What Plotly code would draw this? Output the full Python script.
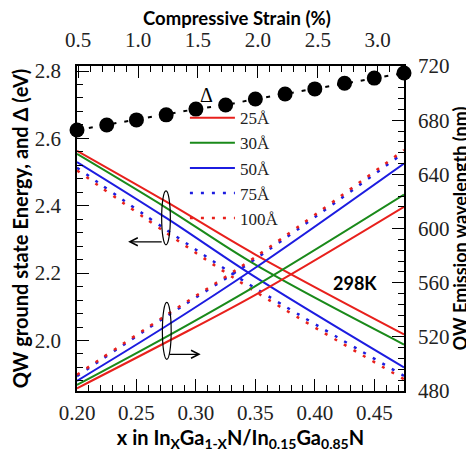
import plotly.graph_objects as go

# x = In fraction
x_pts = [0.20, 0.275, 0.35, 0.475]

# Ground state energies (eV), left axis
e_25 = [2.563, 2.412, 2.255, 2.018]
e_30 = [2.554, 2.394, 2.225, 1.988]
e_50 = [2.530, 2.364, 2.188, 1.920]
e_75 = [2.513, 2.329, 2.155, 1.895]
e_100 = [2.505, 2.320, 2.145, 1.885]

# Emission wavelength (nm), right axis
w_25 = [482.0, 516.0, 551.0, 616.0]
w_30 = [484.5, 520.0, 557.5, 625.0]
w_50 = [487.5, 528.0, 571.0, 648.0]
w_75 = [491.0, 535.0, 577.5, 656.0]
w_100 = [492.0, 536.0, 579.0, 658.0]

# Delta black dots
x_delta = [0.200, 0.225, 0.250, 0.275, 0.300, 0.325, 0.350, 0.375, 0.400, 0.425, 0.450, 0.475]
delta = [2.625, 2.640, 2.655, 2.670, 2.687, 2.699, 2.717, 2.732, 2.747, 2.764, 2.779, 2.794]

series = [
    ("25Å", e_25, w_25, "#e8201c", "solid"),
    ("30Å", e_30, w_30, "#1a8a1a", "solid"),
    ("50Å", e_50, w_50, "#1c1ce0", "solid"),
    ("75Å", e_75, w_75, "#1c1ce0", "3px,8px"),
    ("100Å", e_100, w_100, "#e8201c", "3px,8px"),
]

SERIF = "Liberation Serif"
SANS = "Lato"

fig = go.Figure()

fig.add_trace(go.Scatter(
    x=x_delta, y=delta, mode="lines+markers",
    line=dict(color="black", width=2, dash="4px,8px"),
    marker=dict(color="black", size=15),
    cliponaxis=False, showlegend=False))

for name, e, w, col, dash in series:
    lw = 2 if dash == "solid" else 2.5
    fig.add_trace(go.Scatter(
        x=x_pts, y=e, mode="lines", name=name,
        line=dict(color=col, width=lw, dash=dash, shape="spline"),
        showlegend=True))
for name, e, w, col, dash in series:
    lw = 2 if dash == "solid" else 2.5
    fig.add_trace(go.Scatter(
        x=x_pts, y=w, mode="lines", name=name, yaxis="y2",
        line=dict(color=col, width=lw, dash=dash, shape="spline"),
        showlegend=False))

tickfont = dict(family=SERIF, size=21, color="#222")


def tfont(size):
    return dict(family=SANS, size=size, color="black", weight="bold")


def axis_common(minor_dtick, minor_tick0):
    return dict(ticks="inside", ticklen=12, tickwidth=1.2, tickcolor="black",
                showline=True, linecolor="black", linewidth=1.5,
                showgrid=False, zeroline=False, tickfont=tickfont, automargin=False,
                minor=dict(dtick=minor_dtick, tick0=minor_tick0, ticks="inside", ticklen=6,
                           tickcolor="black", tickwidth=1.2, showgrid=False))


fig.update_layout(
    width=474, height=452,
    margin=dict(l=69, r=78, t=58, b=69),
    paper_bgcolor="white", plot_bgcolor="white",
    showlegend=True,
    legend=dict(x=0.33, y=0.895, xanchor="left", yanchor="top",
                font=dict(family=SERIF, size=17, color="#222"),
                bgcolor="rgba(0,0,0,0)", itemwidth=45, tracegroupgap=0),
    xaxis=dict(range=[0.2, 0.475], dtick=0.05, tick0=0.2, tickformat=".2f",
               ticklabelstandoff=2,
               title=dict(text="x in In<sub>X</sub>Ga<sub>1-X</sub>N/In<sub>0.15</sub>Ga<sub>0.85</sub>N",
                          font=tfont(20), standoff=6),
               **axis_common(0.01, 0.2)),
    xaxis2=dict(range=[0.49, 3.22], overlaying="x", side="top", anchor="y",
                dtick=0.5, tick0=0.5, tickformat=".1f", ticklabelstandoff=9,
                **axis_common(0.1, 0.5)),
    yaxis=dict(range=[1.85, 2.815], dtick=0.2, tick0=2.0, tickformat=".1f",
               ticklabelstandoff=10,
               title=dict(text="QW ground state Energy, and Δ (eV)", font=tfont(20), standoff=2),
               **axis_common(0.04, 2.0)),
    yaxis2=dict(range=[480, 720], overlaying="y", side="right", anchor="x",
                dtick=40, tick0=480, ticklabelstandoff=8,
                title=dict(text="QW Emission wavelength (nm)", font=tfont(18), standoff=1),
                **axis_common(8, 480)),
)

# invisible trace to activate the top axis
fig.add_trace(go.Scatter(x=[], y=[], xaxis="x2", yaxis="y", showlegend=False))

# Top axis title
fig.add_annotation(x=0.49, y=1, xref="paper", yref="paper", yanchor="middle",
                   yshift=48, text="Compressive Strain (%)", showarrow=False,
                   font=tfont(18.5))

# Annotations: Delta label and temperature
fig.add_annotation(x=0.309, y=2.73, text="Δ", showarrow=False,
                   font=dict(family=SERIF, size=20, color="black"))
fig.add_annotation(x=0.4336, y=2.17, text="<b>298K</b>", showarrow=False,
                   font=dict(family=SANS, size=18, color="black"))

# Ellipses grouping curves
fig.add_shape(type="circle", xref="x", yref="y", x0=0.2712, x1=0.2785, y0=2.284, y1=2.444,
              line=dict(color="black", width=1.2))
fig.add_shape(type="circle", xref="x", yref="y", x0=0.2718, x1=0.2792, y0=1.944, y1=2.113,
              line=dict(color="black", width=1.2))
# Arrows pointing to the relevant axis
fig.add_annotation(x=0.243, y=2.293, ax=0.2725, ay=2.293, xref="x", yref="y",
                   axref="x", ayref="y", text="", showarrow=True,
                   arrowhead=5, arrowsize=1.3, arrowwidth=1.2, arrowcolor="black")
fig.add_annotation(x=0.304, y=1.959, ax=0.2765, ay=1.959, xref="x", yref="y",
                   axref="x", ayref="y", text="", showarrow=True,
                   arrowhead=5, arrowsize=1.3, arrowwidth=1.2, arrowcolor="black")

fig.write_html("out.html")
